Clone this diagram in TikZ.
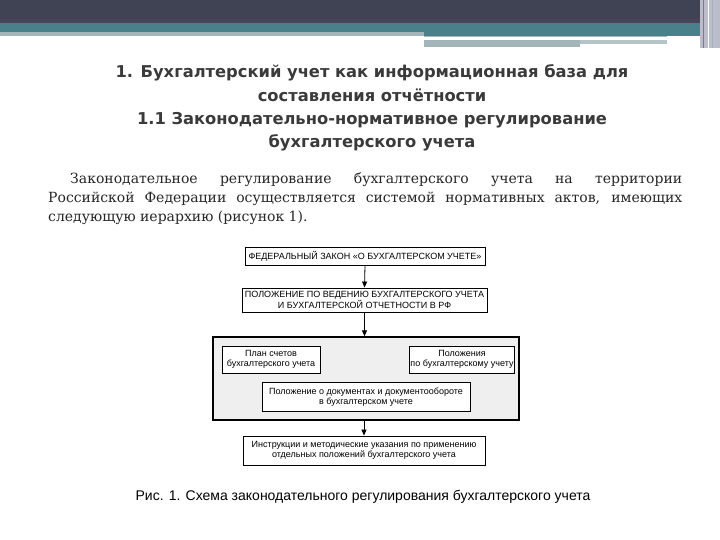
\documentclass[tikz,border=0pt]{standalone}
\usepackage{fontspec}
\setmainfont{DejaVu Serif}
\newfontfamily\titlefont{DejaVu Sans}
\newfontfamily\boxfont{Liberation Sans}
\usetikzlibrary{arrows.meta}
\definecolor{barDark}{HTML}{3F4354}
\definecolor{barPurple}{HTML}{4A4458}
\definecolor{barTeal}{HTML}{4A8089}
\definecolor{barGray}{HTML}{A3B5B9}
\definecolor{barSide}{HTML}{BDBCCB}
\definecolor{titleGray}{HTML}{3A3A3A}
\definecolor{bigFill}{HTML}{EFEFEF}
\tikzset{
  boxA/.style={draw=black, line width=0.9pt, fill=white, font=\boxfont\fontsize{9}{10.5}\selectfont, align=center, inner sep=1pt},
  bigbox/.style={draw=black, line width=1.4pt, fill=bigFill},
  arr/.style={-{Triangle[length=6pt,width=5pt]}, line width=0.8pt}
}
\begin{document}
\begin{tikzpicture}[x=1pt,y=-1pt]
\useasboundingbox (0,0) rectangle (720,540);
\fill[white] (0,0) rectangle (720,540);
% top bar
\fill[barDark] (0,0) rectangle (700,21);
\fill[barPurple] (0,19) rectangle (700,23);
\fill[barTeal] (0,23) rectangle (700,32);
\fill[barGray] (0,32) rectangle (424,36);
\fill[barTeal] (424,32) rectangle (700,36);
\fill[barGray] (424,36) rectangle (667,37);
\fill[barGray] (424,40) rectangle (580,47);
\fill[barGray!80] (580,40) rectangle (667,44);
\fill[barSide] (700,0) rectangle (720,48);
\draw[barDark!70, line width=1pt] (703,0) -- (703,48);
\draw[white, line width=1pt] (708,0) -- (708,48);
\draw[barGray, line width=1pt] (712,0) -- (712,48);
% title
\node[font=\titlefont\bfseries\fontsize{16.3}{23.3}\selectfont, text=titleGray, align=center, inner sep=0] (title) at (372,108)
 {1. Бухгалтерский учет как информационная база для\\
  составления отчётности\\
  1.1 Законодательно-нормативное регулирование\\
  бухгалтерского учета};
% paragraph
\node[anchor=north west, text width=634pt, align=justify, inner sep=0, font=\fontsize{14}{19.3}\selectfont, text=black!85] (para) at (48,172)
 {\hspace*{22pt}Законодательное регулирование бухгалтерского учета на территории\linebreak
  Российской Федерации осуществляется системой нормативных актов, имеющих\linebreak
  следующую иерархию (рисунок 1).};
% diagram
\node[bigbox, minimum width=306pt, minimum height=83pt, inner sep=0] (big) at (366,378.5) {};
\node[boxA, minimum width=240pt, minimum height=18pt] (b1) at (365,256) {ФЕДЕРАЛЬНЫЙ ЗАКОН «О БУХГАЛТЕРСКОМ УЧЕТЕ»};
\node[boxA, minimum width=245pt, minimum height=24pt] (b2) at (364.5,300) {ПОЛОЖЕНИЕ ПО ВЕДЕНИЮ БУХГАЛТЕРСКОГО УЧЕТА\\И БУХГАЛТЕРСКОЙ ОТЧЕТНОСТИ В РФ};
\node[boxA, minimum width=98pt, minimum height=27pt] (p1) at (271,359.5) {План счетов\\бухгалтерского учета};
\node[boxA, minimum width=105pt, minimum height=27pt] (p2) at (462,359.5) {Положения\\по бухгалтерскому учету};
\node[boxA, minimum width=208pt, minimum height=29pt] (p3) at (366,397) {Положение о документах и документообороте\\в бухгалтерском учете};
\node[boxA, minimum width=242pt, minimum height=29pt] (b4) at (364,450.5) {Инструкции и методические указания по применению\\отдельных положений бухгалтерского учета};
\draw[arr] (b1.south) -- (b2.north);
\draw[arr] (b2.south) -- (b2.south |- big.north);
\draw[arr] (b4.north |- big.south) -- (b4.north);
% caption
\node[font=\boxfont\fontsize{14}{16}\selectfont, inner sep=0] (cap) at (363,497) {Рис. 1. Схема законодательного регулирования бухгалтерского учета};
\end{tikzpicture}
\end{document}
